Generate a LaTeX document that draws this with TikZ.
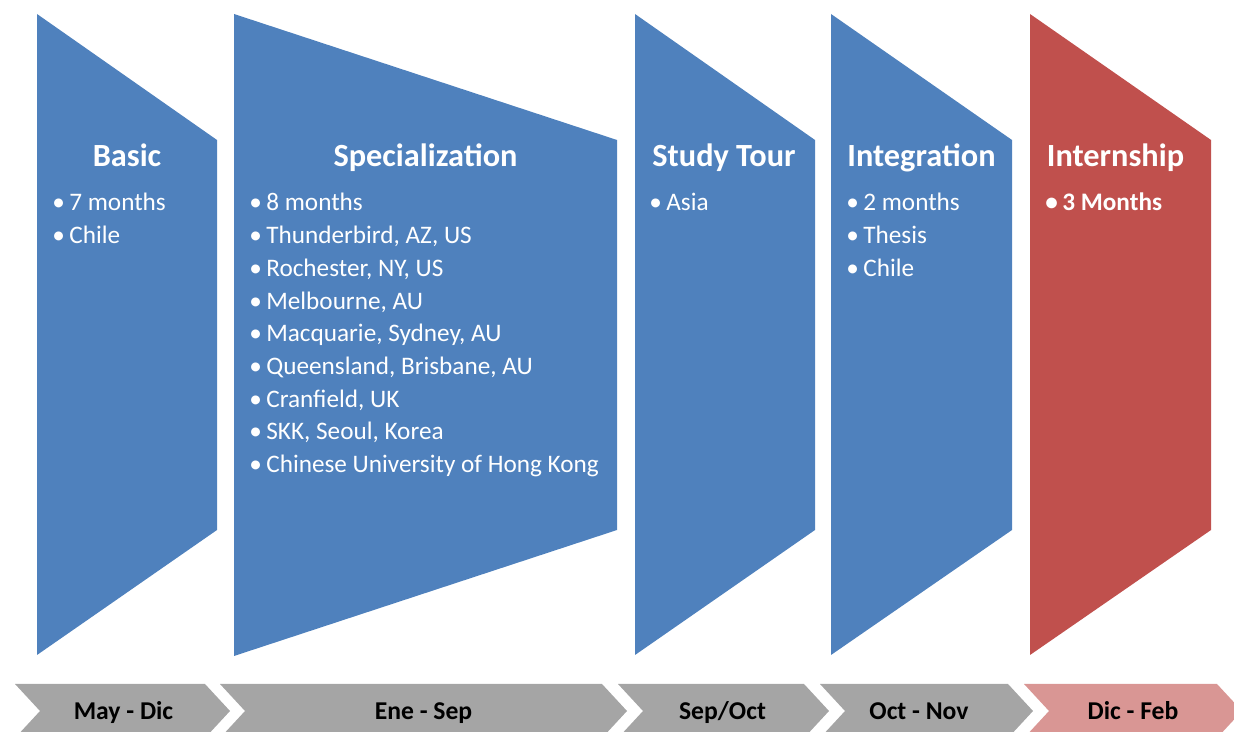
\documentclass[tikz,border=0pt]{standalone}
\usepackage{fontspec}
\setmainfont{Carlito}
\usetikzlibrary{positioning}

\definecolor{stageblue}{HTML}{4F81BD}
\definecolor{stagered}{HTML}{C0504D}
\definecolor{bargray}{HTML}{A5A5A5}
\definecolor{barpink}{HTML}{D99694}

\tikzset{
  stage/.style={fill=stageblue},
  stagetitle/.style={font=\bfseries\fontsize{18.4}{22}\selectfont,text=white,anchor=base,inner sep=0pt},
  stageitem/.style={font=\fontsize{14.35}{17}\selectfont,text=white,anchor=base west,inner sep=0pt},
  period/.style={font=\bfseries\fontsize{14.6}{18}\selectfont,anchor=base,inner sep=0pt},
}
\newcommand{\bul}{\llap{\textbullet\hspace{2.5pt}}}

\begin{document}
\begin{tikzpicture}[x=0.02cm,y=-0.02cm]
\clip (0,0) rectangle (1234,732);

% stages
\fill[stage] (37,14) -- (217,140) -- (217,530) -- (37,655) -- cycle;
\fill[stage] (234,14) -- (617,140) -- (617,530) -- (234,656) -- cycle;
\fill[stage] (635,14) -- (815,140) -- (815,530) -- (635,655) -- cycle;
\fill[stage] (831,14) -- (1012,140) -- (1012,530) -- (831,655) -- cycle;
\fill[stage,fill=stagered] (1030,14) -- (1211,140) -- (1211,530) -- (1030,655) -- cycle;

\node[stagetitle] (basic) at (127,167) {Basic};
\node[stagetitle] (spec) at (425.5,167) {Specialization};
\node[stagetitle] (tour) at (724,167) {Study Tour};
\node[stagetitle] (integ) at (921.5,167) {Integration};
\node[stagetitle] (intern) at (1115.5,167) {Internship};

\foreach \txt [count=\i] in {7 months, Chile}
  \node[stageitem] (basic-\i) at (69,{211+32.7*(\i-1)}) {\bul\txt};
\foreach \txt [count=\i] in {8 months, {Thunderbird, AZ, US}, {Rochester, NY, US}, {Melbourne, AU},
    {Macquarie, Sydney, AU}, {Queensland, Brisbane, AU}, {Cranfield, UK}, {SKK, Seoul, Korea},
    Chinese University of Hong Kong}
  \node[stageitem] (spec-\i) at (266,{211+32.7*(\i-1)}) {\bul\txt};
\node[stageitem] (tour-1) at (666,211) {\bul Asia};
\foreach \txt [count=\i] in {2 months, Thesis, Chile}
  \node[stageitem] (integ-\i) at (863,{211+32.7*(\i-1)}) {\bul\txt};
\node[stageitem,font=\bfseries\fontsize{14.35}{17}\selectfont] (intern-1) at (1062,211) {\bul 3 Months};

% time line
\foreach \l/\r/\c in {15/205/bargray, 220/602/bargray, 618/804/bargray, 820/1008/bargray, 1024/1217/barpink}
  \fill[\c] (\l,684) -- (\r,684) -- (\r+25,711) -- (\r,738) -- (\l,738) -- (\l+25,711) -- cycle;

\node[period] (p1) at (123.5,720) {May - Dic};
\node[period] (p2) at (423.5,720) {Ene - Sep};
\node[period] (p3) at (722.5,720) {Sep/Oct};
\node[period] (p4) at (919,720) {Oct - Nov};
\node[period] (p5) at (1133,720) {Dic - Feb};

\end{tikzpicture}
\end{document}
